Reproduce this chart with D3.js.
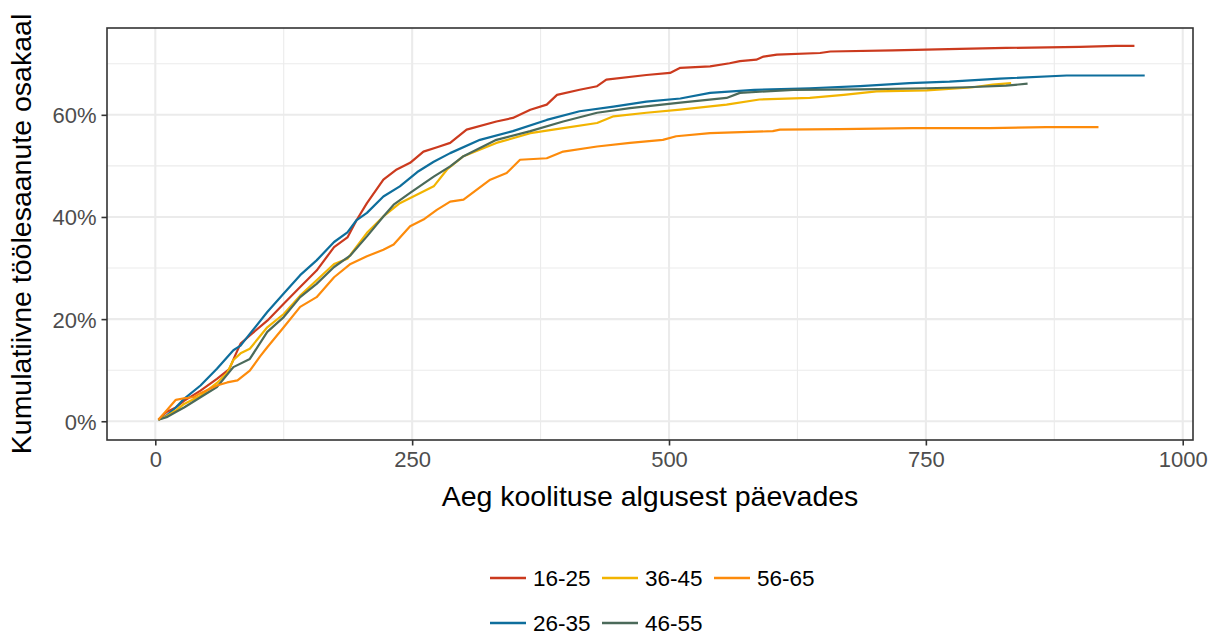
<!DOCTYPE html>
<html>
<head>
<meta charset="utf-8">
<script src="https://cdn.jsdelivr.net/npm/d3@7"></script>
<style>
  html, body { margin: 0; padding: 0; background: #fff; }
  svg { display: block; font-family: "Liberation Sans", Arial, sans-serif; }
</style>
</head>
<body>
<svg id="chart" width="1210" height="635"></svg>
<script>
// ---- Data ----
const groups = ["16-25", "26-35", "36-45", "46-55", "56-65"];
const groupColors = ["#CB3A1E", "#0E6E9C", "#F2B400", "#4B6A5A", "#FD8B0B"];

const days1625 = [3,11,20,28,44,60,72,78,83,92,109,125,141,157,174,187,196,206,222,235,248,261,275,287,303,332,348,365,381,391,413,430,439,478,501,511,540,559,569,585,592,605,647,657,718,783,828,900,935,953];
const vals1625 = [0.3,1.8,2.7,4.0,6.0,8.3,10.2,13.0,15.2,16.8,19.7,23.0,26.3,29.5,34.1,36.0,39.4,42.7,47.3,49.3,50.6,52.8,53.7,54.5,57.1,58.7,59.4,61.0,62.0,63.9,64.9,65.6,66.9,67.8,68.2,69.2,69.5,70.1,70.5,70.8,71.4,71.8,72.1,72.4,72.6,72.9,73.1,73.3,73.5,73.5];

const days2635 = [3,11,20,28,44,60,76,83,92,109,125,141,157,174,187,196,206,222,238,255,271,287,316,348,381,413,446,478,511,540,583,637,686,734,773,822,887,963];
const vals2635 = [0.3,1.1,2.7,4.4,7.0,10.3,13.9,14.8,17.1,21.4,25.0,28.6,31.5,35.1,37.0,39.4,40.8,44.0,46.0,48.8,50.8,52.5,55.1,56.8,59.0,60.7,61.6,62.6,63.2,64.3,64.9,65.2,65.6,66.2,66.5,67.1,67.7,67.7];

const days3645 = [3,11,20,28,44,60,70,76,83,92,109,125,141,157,174,187,206,222,238,255,271,284,300,332,365,397,430,446,478,511,556,588,637,670,702,751,783,796,815,833];
const vals3645 = [0.3,1.0,2.1,3.4,5.0,7.5,9.5,12.0,13.3,14.2,18.4,21.0,24.6,27.6,30.8,31.8,36.9,40.1,42.7,44.4,46.0,49.3,51.9,54.5,56.4,57.4,58.4,59.7,60.4,61.0,62.0,63.0,63.3,63.9,64.6,64.8,65.2,65.4,65.9,66.2];

const days4655 = [3,11,20,28,44,60,76,92,109,125,141,157,174,190,206,222,232,248,271,287,300,332,365,397,430,462,511,556,569,621,686,751,790,828,849];
const vals4655 = [0.3,0.8,1.8,2.7,4.7,6.7,10.6,12.2,17.5,20.4,24.3,26.9,30.2,32.5,36.2,40.1,42.4,44.7,47.9,49.9,51.9,55.1,56.8,58.7,60.4,61.3,62.4,63.3,64.3,64.9,65.0,65.2,65.4,65.7,66.1];

const days5665 = [3,11,20,28,37,44,60,70,80,92,102,109,125,141,157,174,190,206,222,232,248,261,274,287,300,326,342,355,381,397,430,462,494,507,540,601,608,666,737,812,867,918];
const vals5665 = [0.3,2.1,4.2,4.5,4.7,5.5,7.0,7.6,8.0,9.9,12.7,14.5,18.4,22.4,24.3,28.2,30.8,32.3,33.6,34.6,38.2,39.5,41.4,43.0,43.4,47.3,48.6,51.2,51.5,52.8,53.8,54.5,55.1,55.8,56.4,56.8,57.1,57.2,57.4,57.4,57.6,57.6];

const xTicks = [0, 250, 500, 750, 1000];
const xMinor = [125, 375, 625, 875];
const yTicks = [0, 20, 40, 60];
const yMinor = [10, 30, 50, 70];
const xTitle = "Aeg koolituse algusest päevades";
const yTitle = "Kumulatiivne töölesaanute osakaal";

const seriesDays = [days1625, days2635, days3645, days4655, days5665];
const seriesVals = [vals1625, vals2635, vals3645, vals4655, vals5665];

// ---- Layout ----
const svg = d3.select("#chart");
const P = { left: 107, right: 1193, top: 28, bottom: 440 };

const x = d3.scaleLinear().domain([-47, 1010]).range([P.left, P.right]);
const y = d3.scaleLinear().domain([-3.67, 77]).range([P.bottom, P.top]);

const gridColor = "#EBEBEB";
const g = svg.append("g");

// minor grid
g.selectAll(".xminor").data(xMinor).enter().append("line")
  .attr("x1", d => x(d)).attr("x2", d => x(d))
  .attr("y1", P.top).attr("y2", P.bottom)
  .attr("stroke", gridColor).attr("stroke-width", 1.1);
g.selectAll(".yminor").data(yMinor).enter().append("line")
  .attr("x1", P.left).attr("x2", P.right)
  .attr("y1", d => y(d)).attr("y2", d => y(d))
  .attr("stroke", gridColor).attr("stroke-width", 1.1);
// major grid
g.selectAll(".xmajor").data(xTicks).enter().append("line")
  .attr("x1", d => x(d)).attr("x2", d => x(d))
  .attr("y1", P.top).attr("y2", P.bottom)
  .attr("stroke", gridColor).attr("stroke-width", 2.1);
g.selectAll(".ymajor").data(yTicks).enter().append("line")
  .attr("x1", P.left).attr("x2", P.right)
  .attr("y1", d => y(d)).attr("y2", d => y(d))
  .attr("stroke", gridColor).attr("stroke-width", 2.1);

// lines
const line = d3.line().x(d => x(d[0])).y(d => y(d[1])).curve(d3.curveLinear);
groups.forEach((name, i) => {
  const pts = seriesDays[i].map((d, j) => [d, seriesVals[i][j]]);
  g.append("path").datum(pts)
    .attr("d", line)
    .attr("fill", "none")
    .attr("stroke", groupColors[i])
    .attr("stroke-width", 2.2)
    .attr("stroke-linejoin", "round");
});

// panel border
g.append("rect")
  .attr("x", P.left).attr("y", P.top)
  .attr("width", P.right - P.left).attr("height", P.bottom - P.top)
  .attr("fill", "none").attr("stroke", "#333333").attr("stroke-width", 1.6);

// axes
const tickFont = 22;
const xAxis = d3.axisBottom(x).tickValues(xTicks).tickSize(5.5).tickPadding(6).tickFormat(d3.format("d"));
const xg = svg.append("g").attr("transform", `translate(0,${P.bottom})`).call(xAxis);
const yAxis = d3.axisLeft(y).tickValues(yTicks).tickSize(5.5).tickPadding(5).tickFormat(d => d + "%");
const yg = svg.append("g").attr("transform", `translate(${P.left},0)`).call(yAxis);
[xg, yg].forEach(a => {
  a.select(".domain").remove();
  a.selectAll(".tick line").attr("stroke", "#333333").attr("stroke-width", 1.6);
  a.selectAll(".tick text").attr("fill", "#4D4D4D")
    .style("font-size", tickFont + "px")
    .style("font-family", "'Liberation Sans', Arial, sans-serif");
});
yg.selectAll(".tick text").attr("dy", "0.36em");

// axis titles
svg.append("text")
  .attr("x", (P.left + P.right) / 2).attr("y", 506)
  .attr("text-anchor", "middle")
  .style("font-size", "28.5px").attr("fill", "#000")
  .text(xTitle);
svg.append("text")
  .attr("transform", `translate(31,${(P.top + P.bottom) / 2}) rotate(-90)`)
  .attr("text-anchor", "middle")
  .style("font-size", "28.5px").attr("fill", "#000")
  .text(yTitle);

// legend (two rows, filled by column)
const legendPos = [
  { col: 0, row: 0 }, { col: 0, row: 1 },
  { col: 1, row: 0 }, { col: 1, row: 1 },
  { col: 2, row: 0 }
];
const legX0 = 490, colW = 112, rowY = [578, 623];
groups.forEach((name, i) => {
  const p = legendPos[i];
  const lx = legX0 + p.col * colW;
  const ly = rowY[p.row];
  svg.append("line")
    .attr("x1", lx).attr("x2", lx + 36)
    .attr("y1", ly).attr("y2", ly)
    .attr("stroke", groupColors[i]).attr("stroke-width", 2.4);
  svg.append("text")
    .attr("x", lx + 43).attr("y", ly)
    .attr("dy", "0.36em")
    .style("font-size", "22.5px").attr("fill", "#000")
    .text(name);
});
</script>
</body>
</html>
